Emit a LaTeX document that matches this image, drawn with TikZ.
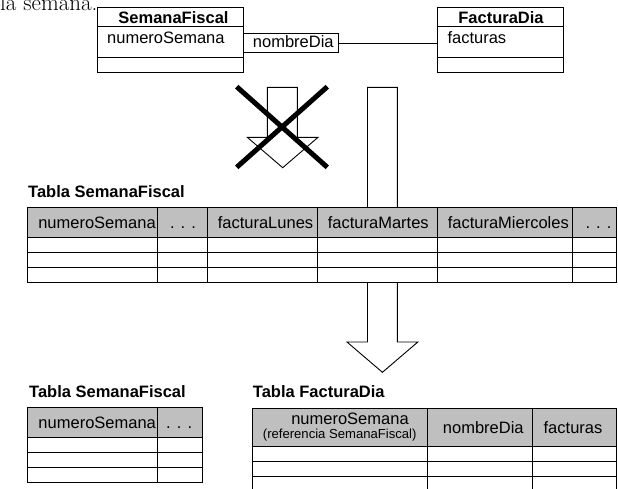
\documentclass[tikz,border=0pt]{standalone}
\usepackage{fontspec}
\newfontfamily\arial{Liberation Sans}
\newcommand\txtfont{\arial\fontsize{16.5}{19}\selectfont}
\newcommand\smallfont{\arial\fontsize{13.1}{15}\selectfont}
\tikzset{
  lbl/.style={inner sep=0pt, font=\txtfont, text height=11.8pt, text depth=0pt},
  bold/.style={lbl, font=\txtfont\bfseries},
  note/.style={inner sep=0pt, font=\smallfont, text height=9.4pt, text depth=0pt},
  umlbox/.style={draw, line width=1pt, inner sep=0pt},
  grid/.style={line width=0.9pt},
  hdr/.style={fill=black!25},
  blockarrow/.style={draw, line width=0.9pt, fill=white, line join=miter},
  cross/.style={line width=5pt, line cap=butt}
}
\begin{document}
\begin{tikzpicture}[x=1pt, y=-1pt]
\clip (0,0) rectangle (618,488);
\fill[white] (0,0) rectangle (618,488);

% tail of the preceding sentence, cut by the page edge
\node[anchor=base west, inner sep=0pt, font=\fontsize{23}{27}\selectfont] (prev) at (0,10.5) {la semana.};

% ---------- class diagram ----------
\node[umlbox, minimum width=145.4pt, minimum height=65pt, anchor=north west] (sf) at (97.3,7.3) {};
\draw[line width=1pt] (97.3,26.7) -- (242.7,26.7) (97.3,57.3) -- (242.7,57.3);
\node[bold] (sft) at (173.5,17.2) {SemanaFiscal};
\node[lbl, anchor=west] (sfa) at (107,37.3) {numeroSemana};

\node[umlbox, minimum width=125.4pt, minimum height=65pt, anchor=north west] (fd) at (437.3,7.3) {};
\draw[line width=1pt] (437.3,26.7) -- (562.7,26.7) (437.3,57.3) -- (562.7,57.3);
\node[bold] (fdt) at (501,17.2) {FacturaDia};
\node[lbl, anchor=west] (fda) at (447.3,37.7) {facturas};

\node[umlbox, minimum width=95pt, minimum height=19pt, anchor=north west] (nd) at (242.5,33) {};
\node[lbl] (ndt) at (293.3,42) {nombreDia};
\draw[line width=0.9pt] (nd.east) -- (fd.west |- nd.east);

% ---------- long block arrow (behind the table) ----------
\draw[blockarrow] (367.5,87.3) -- (397.3,87.3) -- (397.3,342) -- (417.8,342)
  -- (382.4,372.3) -- (347,342) -- (367.5,342) -- cycle;

% ---------- crossed-out block arrow ----------
\draw[blockarrow] (267.3,87.3) -- (297.3,87.3) -- (297.3,137.3) -- (318,137.3)
  -- (282.7,167.7) -- (247.3,137.3) -- (267.3,137.3) -- cycle;
\draw[cross] (236.7,86.7) -- (327.3,167.3);
\draw[cross] (327.3,86.7) -- (236.7,167.3);

% ---------- table SemanaFiscal (one column per day) ----------
\node[bold, anchor=west] (t1) at (28,192) {Tabla SemanaFiscal};
\fill[hdr] (27.3,207.3) rectangle (616.7,237.3);
\fill[white] (27.3,237.3) rectangle (616.7,282.3);
\draw[grid] (27.3,207.3) rectangle (616.7,282.3);
\foreach \y in {237.3,252.3,267.3} \draw[grid] (27.3,\y) -- (616.7,\y);
\foreach \x in {157.3,207.3,317.3,437.3,572.7} \draw[grid] (\x,207.3) -- (\x,282.3);
\node[lbl] (t1a) at (97,223) {numeroSemana};
\node[lbl] (t1b) at (183,223) {. . .};
\node[lbl] (t1c) at (265.5,223) {facturaLunes};
\node[lbl] (t1d) at (378.3,223) {facturaMartes};
\node[lbl] (t1e) at (508.3,223) {facturaMiercoles};
\node[lbl] (t1f) at (598.5,223) {. . .};

% ---------- table SemanaFiscal (reduced) ----------
\node[bold, anchor=west] (t2) at (29,392) {Tabla SemanaFiscal};
\fill[hdr] (27.3,407.3) rectangle (202.3,437.3);
\fill[white] (27.3,437.3) rectangle (202.3,482.3);
\draw[grid] (27.3,407.3) rectangle (202.3,482.3);
\foreach \y in {437.3,452.3,467.3} \draw[grid] (27.3,\y) -- (202.3,\y);
\draw[grid] (157.3,407.3) -- (157.3,482.3);
\node[lbl] (t2a) at (97.2,422.3) {numeroSemana};
\node[lbl] (t2b) at (179.2,422.3) {. . .};

% ---------- table FacturaDia ----------
\node[bold, anchor=west] (t3) at (252.7,392) {Tabla FacturaDia};
\fill[hdr] (252.7,408.3) rectangle (616.7,446.7);
\fill[white] (252.7,446.7) rectangle (616.7,500);
\draw[grid] (252.7,500) -- (252.7,408.3) -- (616.7,408.3) -- (616.7,500);
\foreach \y in {446.7,461.7,476.7,491.7} \draw[grid] (252.7,\y) -- (616.7,\y);
\foreach \x in {427.3,532.7} \draw[grid] (\x,408.3) -- (\x,500);
\node[lbl] (t3a) at (350,418.3) {numeroSemana};
\node[note] (t3a2) at (339.7,433.7) {(referencia SemanaFiscal)};
\node[lbl] (t3b) at (483.3,427.8) {nombreDia};
\node[lbl] (t3c) at (573,428) {facturas};
\end{tikzpicture}
\end{document}
